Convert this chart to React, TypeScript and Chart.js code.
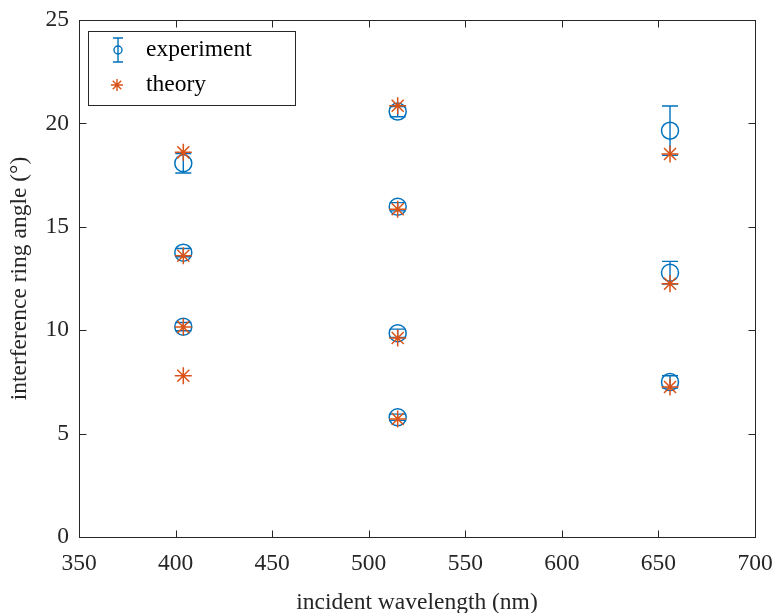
import React, { useEffect, useRef } from "react";
import { Chart, registerables } from "chart.js";

Chart.register(...registerables);

// ---- data ----
const expWavelength = [404, 404, 404, 515, 515, 515, 515, 656, 656, 656];
const expAngle = [18.07, 13.75, 10.17, 20.57, 15.97, 9.85, 5.79, 19.65, 12.78, 7.5];
const expError = [0.47, 0.2, 0.2, 0.25, 0.2, 0.2, 0.15, 1.19, 0.55, 0.3];

const theoryWavelength = [404, 404, 404, 404, 515, 515, 515, 515, 656, 656, 656];
const theoryAngle = [18.6, 13.6, 10.15, 7.8, 20.85, 15.85, 9.62, 5.71, 18.52, 12.25, 7.25];

const seriesLabels = ["experiment", "theory"];
const xTitle = "incident wavelength (nm)";
const yTitle = "interference ring angle (°)";

const BLUE = "#0072BD";
const ORANGE = "#D95319";
const AXIS = "#262626";
const FONT = "'Liberation Serif', 'Times New Roman', serif";
const FS = 23.5;

const boxPlugin = {
  id: "matlabBox",
  beforeDatasetsDraw(chart: any) {
    const ctx = chart.ctx;
    const xs = chart.scales.x;
    const ys = chart.scales.y;
    ctx.save();
    ctx.strokeStyle = BLUE;
    ctx.lineWidth = 1.4;
    expWavelength.forEach((w, i) => {
      const px = xs.getPixelForValue(w);
      const top = ys.getPixelForValue(expAngle[i] + expError[i]);
      const bot = ys.getPixelForValue(expAngle[i] - expError[i]);
      ctx.beginPath();
      ctx.moveTo(px, top);
      ctx.lineTo(px, bot);
      ctx.moveTo(px - 8, top);
      ctx.lineTo(px + 8, top);
      ctx.moveTo(px - 8, bot);
      ctx.lineTo(px + 8, bot);
      ctx.stroke();
    });
    ctx.restore();
  },
  afterDraw(chart: any) {
    const ctx = chart.ctx;
    const { left, right, top, bottom } = chart.chartArea;
    const xs = chart.scales.x;
    const ys = chart.scales.y;
    ctx.save();
    ctx.strokeStyle = AXIS;
    ctx.lineWidth = 1;
    const L = Math.round(left) + 0.5;
    const R = Math.round(right) + 0.5;
    const T = Math.round(top) + 0.5;
    const B = Math.round(bottom) + 0.5;
    ctx.strokeRect(L, T, R - L, B - T);
    const tl = 7;
    ctx.beginPath();
    xs.ticks.forEach((t: any) => {
      const p = Math.round(xs.getPixelForValue(t.value)) + 0.5;
      ctx.moveTo(p, B);
      ctx.lineTo(p, B - tl);
      ctx.moveTo(p, T);
      ctx.lineTo(p, T + tl);
    });
    ys.ticks.forEach((t: any) => {
      const p = Math.round(ys.getPixelForValue(t.value)) + 0.5;
      ctx.moveTo(L, p);
      ctx.lineTo(L + tl, p);
      ctx.moveTo(R, p);
      ctx.lineTo(R - tl, p);
    });
    ctx.stroke();

    // legend
    const bx = 88.5, by = 31.5, bw = 207, bh = 74;
    ctx.fillStyle = "#ffffff";
    ctx.fillRect(bx, by, bw, bh);
    ctx.strokeStyle = AXIS;
    ctx.strokeRect(bx, by, bw, bh);
    const mx = 118;
    const y1 = 50;
    const y2 = 85;
    // experiment icon
    ctx.strokeStyle = BLUE;
    ctx.lineWidth = 1.4;
    ctx.beginPath();
    ctx.moveTo(mx, y1 - 12);
    ctx.lineTo(mx, y1 + 12);
    ctx.moveTo(mx - 5, y1 - 12);
    ctx.lineTo(mx + 5, y1 - 12);
    ctx.moveTo(mx - 5, y1 + 12);
    ctx.lineTo(mx + 5, y1 + 12);
    ctx.stroke();
    ctx.beginPath();
    ctx.arc(mx, y1, 4, 0, Math.PI * 2);
    ctx.stroke();
    // theory icon
    ctx.strokeStyle = ORANGE;
    ctx.beginPath();
    const r = 6;
    for (let k = 0; k < 4; k++) {
      const a = (k * Math.PI) / 4;
      ctx.moveTo(mx - 1 + Math.cos(a) * r, y2 + Math.sin(a) * r);
      ctx.lineTo(mx - 1 - Math.cos(a) * r, y2 - Math.sin(a) * r);
    }
    ctx.stroke();
    ctx.fillStyle = "#000000";
    ctx.font = `${FS}px ${FONT}`;
    ctx.textBaseline = "middle";
    ctx.textAlign = "left";
    ctx.fillText(seriesLabels[0], 146, y1);
    ctx.fillText(seriesLabels[1], 146, y2);
    ctx.restore();
  },
};

export default function App() {
  const ref = useRef<HTMLCanvasElement | null>(null);
  useEffect(() => {
    if (!ref.current) return;
    const chart = new Chart(ref.current, {
      type: "scatter",
      data: {
        datasets: [
          {
            label: seriesLabels[0],
            data: expWavelength.map((x, i) => ({ x, y: expAngle[i] })),
            pointStyle: "circle",
            pointRadius: 8.5,
            borderColor: BLUE,
            backgroundColor: "rgba(0,0,0,0)",
            pointBorderWidth: 1.5,
            order: 1,
          },
          {
            label: seriesLabels[1],
            data: theoryWavelength.map((x, i) => ({ x, y: theoryAngle[i] })),
            pointStyle: "star",
            pointRadius: 8.5,
            borderColor: ORANGE,
            backgroundColor: ORANGE,
            pointBorderWidth: 1.5,
            order: 0,
          },
        ],
      },
      plugins: [boxPlugin],
      options: {
        animation: false,
        responsive: false,
        layout: { padding: { top: 20, right: 21, left: 0, bottom: 0 } },
        plugins: { legend: { display: false }, tooltip: { enabled: false } },
        scales: {
          x: {
            type: "linear",
            min: 350,
            max: 700,
            afterFit: (s: any) => {
              s.height = 76;
              s.paddingLeft = 0;
              s.paddingRight = 0;
            },
            grid: { display: false, drawTicks: false },
            border: { display: false },
            ticks: {
              stepSize: 50,
              color: AXIS,
              padding: 13,
              font: { family: FONT, size: FS },
            },
            title: {
              display: true,
              text: xTitle,
              color: AXIS,
              font: { family: FONT, size: FS, lineHeight: 1 },
              padding: { top: 0, bottom: -2 },
            },
          },
          y: {
            type: "linear",
            min: 0,
            max: 25,
            afterFit: (s: any) => {
              s.width = 79;
              s.paddingTop = 0;
              s.paddingBottom = 0;
            },
            grid: { display: false, drawTicks: false },
            border: { display: false },
            ticks: {
              stepSize: 5,
              color: AXIS,
              padding: 10,
              font: { family: FONT, size: FS },
            },
            title: {
              display: true,
              text: yTitle,
              color: AXIS,
              font: { family: FONT, size: FS, lineHeight: 1 },
              padding: { top: 8, bottom: 0 },
            },
          },
        },
      },
    });
    return () => chart.destroy();
  }, []);
  return (
    <div style={{ position: "fixed", left: 0, top: 0, width: 776, height: 613, background: "#fff" }}>
      <canvas ref={ref} width={776} height={613} style={{ display: "block" }} />
    </div>
  );
}
